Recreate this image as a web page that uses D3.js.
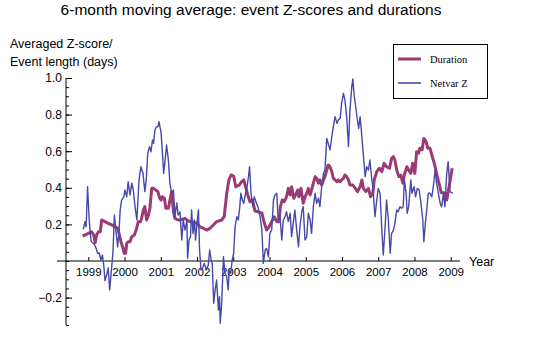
<!DOCTYPE html>
<html>
<head>
<meta charset="utf-8">
<script src="https://cdn.jsdelivr.net/npm/d3@7"></script>
<style>
body { margin: 0; background: #fff; }
text { font-family: "Liberation Sans", Arial, sans-serif; fill: #000; }
</style>
</head>
<body>
<svg id="chart" width="540" height="338"></svg>
<script>
// 6-month moving averages, [year, value]
var durationSeries = [
	[1998.84,0.137],[1998.91,0.142],[1999.00,0.151],[1999.09,0.160],[1999.15,0.142],[1999.19,0.100],[1999.23,0.142],[1999.28,0.160],
	[1999.33,0.160],[1999.37,0.224],[1999.46,0.215],[1999.55,0.206],[1999.65,0.197],[1999.74,0.187],[1999.81,0.179],[1999.86,0.142],
	[1999.90,0.105],[1999.96,0.069],[1999.99,0.042],[2000.03,0.042],[2000.06,0.097],[2000.10,0.105],[2000.15,0.105],[2000.20,0.133],
	[2000.27,0.142],[2000.32,0.169],[2000.38,0.215],[2000.44,0.215],[2000.47,0.233],[2000.52,0.279],[2000.56,0.297],[2000.61,0.224],
	[2000.66,0.251],[2000.70,0.288],[2000.75,0.397],[2000.80,0.397],[2000.86,0.388],[2000.92,0.379],[2000.97,0.343],[2001.01,0.333],
	[2001.04,0.351],[2001.10,0.343],[2001.14,0.288],[2001.21,0.288],[2001.25,0.330],[2001.30,0.379],[2001.35,0.269],[2001.39,0.233],
	[2001.48,0.224],[2001.53,0.224],[2001.67,0.233],[2001.75,0.219],[2001.85,0.215],[2002.00,0.206],[2002.08,0.187],[2002.17,0.179],
	[2002.27,0.169],[2002.36,0.179],[2002.45,0.197],[2002.54,0.215],[2002.68,0.224],[2002.75,0.242],[2002.82,0.370],[2002.88,0.443],
	[2002.94,0.470],[2003.01,0.464],[2003.07,0.406],[2003.16,0.415],[2003.23,0.433],[2003.29,0.443],[2003.34,0.406],[2003.40,0.361],
	[2003.46,0.324],[2003.53,0.333],[2003.60,0.273],[2003.69,0.269],[2003.79,0.261],[2003.86,0.206],[2003.92,0.169],[2003.99,0.187],
	[2004.06,0.215],[2004.13,0.242],[2004.20,0.215],[2004.26,0.215],[2004.30,0.297],[2004.35,0.333],[2004.41,0.324],[2004.47,0.351],
	[2004.52,0.397],[2004.57,0.361],[2004.61,0.406],[2004.67,0.343],[2004.72,0.361],[2004.78,0.388],[2004.81,0.351],[2004.87,0.397],
	[2004.93,0.315],[2004.98,0.351],[2005.03,0.370],[2005.07,0.397],[2005.12,0.361],[2005.16,0.388],[2005.21,0.425],[2005.26,0.461],
	[2005.30,0.452],[2005.35,0.425],[2005.39,0.443],[2005.44,0.415],[2005.49,0.443],[2005.53,0.461],[2005.58,0.497],[2005.62,0.525],
	[2005.67,0.515],[2005.72,0.488],[2005.76,0.452],[2005.81,0.443],[2005.86,0.433],[2005.90,0.443],[2005.95,0.433],[2005.99,0.443],
	[2006.04,0.452],[2006.08,0.470],[2006.13,0.461],[2006.18,0.443],[2006.22,0.415],[2006.30,0.415],[2006.37,0.397],[2006.43,0.379],
	[2006.50,0.406],[2006.55,0.443],[2006.59,0.397],[2006.66,0.379],[2006.73,0.397],[2006.79,0.351],[2006.85,0.370],[2006.89,0.443],
	[2006.96,0.488],[2007.03,0.507],[2007.10,0.488],[2007.16,0.534],[2007.23,0.515],[2007.31,0.507],[2007.37,0.561],[2007.42,0.570],
	[2007.46,0.552],[2007.51,0.497],[2007.57,0.461],[2007.62,0.470],[2007.68,0.425],[2007.72,0.470],[2007.79,0.515],[2007.84,0.497],
	[2007.90,0.479],[2007.95,0.534],[2008.01,0.479],[2008.06,0.597],[2008.11,0.589],[2008.15,0.616],[2008.21,0.607],[2008.26,0.670],
	[2008.32,0.652],[2008.37,0.616],[2008.43,0.616],[2008.48,0.579],[2008.52,0.552],[2008.58,0.507],[2008.63,0.461],[2008.69,0.415],
	[2008.74,0.373],[2008.80,0.373],[2008.85,0.370],[2008.89,0.333],[2008.93,0.379],[2008.98,0.433],[2009.04,0.507]
];
var netvarSeries = [
	[1998.86,0.173],[1998.91,0.215],[1998.94,0.187],[1998.98,0.406],[1999.02,0.242],[1999.05,0.160],[1999.08,0.105],[1999.14,0.097],
	[1999.20,0.078],[1999.26,0.042],[1999.30,0.044],[1999.35,0.005],[1999.39,0.033],[1999.43,-0.031],[1999.46,-0.108],[1999.52,-0.066],
	[1999.55,-0.038],[1999.59,-0.158],[1999.63,-0.066],[1999.68,0.044],[1999.72,0.251],[1999.76,0.169],[1999.81,0.078],[1999.85,0.169],
	[1999.88,0.279],[1999.92,0.333],[1999.98,0.351],[2000.01,0.388],[2000.06,0.351],[2000.10,0.433],[2000.15,0.361],[2000.20,0.425],
	[2000.24,0.388],[2000.29,0.297],[2000.34,0.224],[2000.40,0.443],[2000.45,0.515],[2000.51,0.479],[2000.56,0.379],[2000.60,0.443],
	[2000.64,0.589],[2000.69,0.625],[2000.73,0.597],[2000.77,0.661],[2000.80,0.643],[2000.84,0.716],[2000.88,0.734],[2000.92,0.734],
	[2000.95,0.761],[2001.01,0.699],[2001.04,0.607],[2001.08,0.479],[2001.12,0.552],[2001.16,0.634],[2001.21,0.552],[2001.25,0.426],
	[2001.30,0.372],[2001.35,0.388],[2001.39,0.242],[2001.44,0.317],[2001.48,0.251],[2001.53,0.269],[2001.58,0.115],[2001.62,0.224],
	[2001.67,0.169],[2001.72,0.224],[2001.74,0.015],[2001.78,0.115],[2001.82,0.133],[2001.85,0.279],[2001.89,0.151],[2001.93,0.224],
	[2001.96,0.115],[2002.00,0.206],[2002.04,0.279],[2002.07,0.060],[2002.11,-0.049],[2002.15,-0.040],[2002.20,-0.013],[2002.26,-0.049],
	[2002.31,-0.022],[2002.35,0.060],[2002.39,0.005],[2002.42,-0.013],[2002.46,-0.231],[2002.50,-0.158],[2002.54,-0.104],[2002.59,-0.268],
	[2002.62,-0.195],[2002.64,-0.340],[2002.68,-0.231],[2002.73,0.023],[2002.77,-0.067],[2002.82,-0.086],[2002.86,-0.158],[2002.89,-0.049],
	[2002.93,-0.067],[2002.97,0.005],[2003.01,0.042],[2003.05,0.187],[2003.10,0.242],[2003.14,0.224],[2003.18,0.297],[2003.21,0.370],
	[2003.25,0.333],[2003.29,0.315],[2003.32,0.351],[2003.38,0.406],[2003.42,0.461],[2003.45,0.515],[2003.49,0.370],[2003.54,0.297],
	[2003.58,0.351],[2003.64,0.315],[2003.68,0.297],[2003.74,0.242],[2003.79,0.169],[2003.83,-0.013],[2003.88,0.060],[2003.92,0.069],
	[2003.97,0.023],[2004.01,0.151],[2004.06,0.169],[2004.11,0.333],[2004.15,0.361],[2004.20,0.370],[2004.24,0.224],[2004.29,0.242],
	[2004.34,0.115],[2004.38,0.224],[2004.43,0.242],[2004.47,0.269],[2004.52,0.215],[2004.57,0.261],[2004.61,0.133],[2004.66,0.215],
	[2004.70,0.279],[2004.75,0.169],[2004.80,0.078],[2004.84,0.187],[2004.89,0.269],[2004.93,0.297],[2004.98,0.115],[2005.03,0.133],
	[2005.07,0.261],[2005.12,0.224],[2005.16,0.151],[2005.21,0.297],[2005.26,0.370],[2005.30,0.315],[2005.35,0.343],[2005.39,0.297],
	[2005.44,0.406],[2005.49,0.479],[2005.53,0.497],[2005.58,0.670],[2005.62,0.643],[2005.67,0.607],[2005.72,0.679],[2005.76,0.734],
	[2005.81,0.789],[2005.86,0.752],[2005.90,0.770],[2005.95,0.780],[2005.99,0.862],[2006.04,0.916],[2006.08,0.880],[2006.13,0.789],
	[2006.18,0.625],[2006.22,0.825],[2006.27,0.952],[2006.30,0.995],[2006.33,0.916],[2006.39,0.825],[2006.42,0.780],[2006.46,0.725],
	[2006.50,0.789],[2006.53,0.725],[2006.57,0.625],[2006.61,0.534],[2006.64,0.461],[2006.68,0.515],[2006.73,0.497],[2006.77,0.552],
	[2006.82,0.452],[2006.86,0.388],[2006.91,0.242],[2006.96,0.333],[2007.00,0.397],[2007.05,0.370],[2007.10,0.169],[2007.14,0.033],
	[2007.19,0.187],[2007.23,0.333],[2007.28,0.224],[2007.33,0.042],[2007.37,0.151],[2007.42,0.169],[2007.46,0.206],[2007.51,0.279],
	[2007.55,0.269],[2007.60,0.297],[2007.65,0.288],[2007.69,0.297],[2007.72,0.443],[2007.77,0.370],[2007.80,0.261],[2007.84,0.297],
	[2007.90,0.443],[2007.93,0.370],[2007.99,0.406],[2008.03,0.351],[2008.08,0.397],[2008.13,0.388],[2008.18,0.315],[2008.23,0.224],
	[2008.26,0.105],[2008.30,0.206],[2008.34,0.279],[2008.38,0.370],[2008.43,0.370],[2008.48,0.351],[2008.52,0.406],[2008.57,0.497],
	[2008.61,0.425],[2008.66,0.370],[2008.71,0.315],[2008.75,0.297],[2008.80,0.370],[2008.84,0.297],[2008.89,0.479],[2008.93,0.543],
	[2008.98,0.379],[2009.06,0.370]
];
var yearTicks = [1999, 2000, 2001, 2002, 2003, 2004, 2005, 2006, 2007, 2008, 2009];
var valueTicks = [-0.2, 0.2, 0.4, 0.6, 0.8, 1.0];
var legendLabels = ['Duration', 'Netvar Z'];
var seriesColors = ['#9b3b73', '#4848a8'];

var svg = d3.select('#chart');

// Scales
var x = d3.scaleLinear().domain([1999, 2009]).range([88.3, 450.7]);
var y = d3.scaleLinear().domain([0, 1]).range([261, 78]);
var axisX = x.invert(66);

// Title
svg.append('text').attr('x', 251).attr('y', 15).attr('text-anchor', 'middle')
	.style('font-size', '15.5px').text('6-month moving average: event Z-scores and durations');

// Axis labels
svg.append('text').attr('x', 10).attr('y', 48).style('font-size', '12.5px').text('Averaged Z-score/');
svg.append('text').attr('x', 10).attr('y', 66).style('font-size', '12.5px').text('Event length (days)');
svg.append('text').attr('x', 469).attr('y', 266).style('font-size', '12.5px').text('Year');

// x axis
var gx = svg.append('g').attr('transform', 'translate(0,' + y(0) + ')')
	.call(d3.axisBottom(x).tickValues(yearTicks).tickFormat(d3.format('d'))
		.tickSizeInner(-4).tickSizeOuter(0).tickPadding(7));
gx.select('.domain').remove();
gx.selectAll('text').style('font-size', '11.5px').style('font-family', '"Liberation Sans", Arial, sans-serif');
gx.append('line').attr('x1', 57).attr('x2', 460).attr('stroke', '#000');

// y axis minor ticks
var gyMinor = svg.append('g').attr('transform', 'translate(' + x(axisX) + ',0)')
	.call(d3.axisLeft(y).tickValues(d3.range(-0.35, 1.001, 0.05)).tickSizeInner(-3).tickSizeOuter(0).tickFormat(''));
gyMinor.select('.domain').remove();

// y axis major ticks
var gy = svg.append('g').attr('transform', 'translate(' + x(axisX) + ',0)')
	.call(d3.axisLeft(y).tickValues(valueTicks).tickFormat(d3.format('.1f'))
		.tickSizeInner(-6).tickSizeOuter(0).tickPadding(4));
gy.select('.domain').remove();
gy.selectAll('text').style('font-size', '12px').style('font-family', '"Liberation Sans", Arial, sans-serif');
gy.append('line').attr('y1', y(1)).attr('y2', y(-0.35)).attr('stroke', '#000');

svg.selectAll('.tick line').attr('stroke', '#000');

// Lines
var line = d3.line().x(function(d) { return x(d[0]); }).y(function(d) { return y(d[1]); });
svg.append('path').datum(durationSeries).attr('d', line)
	.attr('fill', 'none').attr('stroke', seriesColors[0]).attr('stroke-width', 3).attr('stroke-linejoin', 'round');
svg.append('path').datum(netvarSeries).attr('d', line)
	.attr('fill', 'none').attr('stroke', seriesColors[1]).attr('stroke-width', 1.4).attr('stroke-linejoin', 'round');

// Legend
var legend = svg.append('g').attr('transform', 'translate(393,44)');
legend.append('rect').attr('x', 0.5).attr('y', 0.5).attr('width', 94).attr('height', 54)
	.attr('fill', '#fff').attr('stroke', '#000');
legendLabels.forEach(function(label, i) {
	var ly = 15 + i * 24;
	legend.append('line').attr('x1', 5).attr('x2', 28).attr('y1', ly).attr('y2', ly)
		.attr('stroke', seriesColors[i]).attr('stroke-width', i === 0 ? 3 : 1.6);
	legend.append('text').attr('x', 37).attr('y', ly + 3.5)
		.style('font-family', '"Liberation Serif", "Times New Roman", serif').style('font-size', '10.5px').text(label);
});
</script>
</body>
</html>
